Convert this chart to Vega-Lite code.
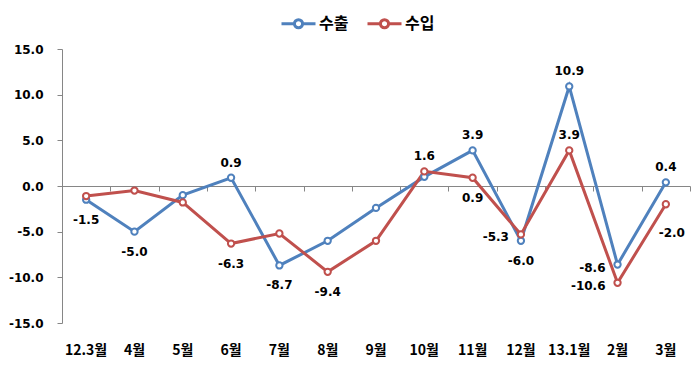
{
  "$schema": "https://vega.github.io/schema/vega-lite/v6.json",
  "width": 628,
  "height": 274,
  "autosize": "none",
  "padding": {"left": 62, "top": 49, "right": 10, "bottom": 44},
  "background": "white",
  "config": {"view": {"stroke": null},
    "locale": {"number": {"decimal": ".", "thousands": ",", "grouping": [3], "currency": ["$", ""], "minus": "-"}}},
  "data": {"values": [
    {"m": "12.3월", "s": "수출", "v": -1.5},
    {"m": "4월", "s": "수출", "v": -5.0},
    {"m": "5월", "s": "수출", "v": -1.0},
    {"m": "6월", "s": "수출", "v": 0.9},
    {"m": "7월", "s": "수출", "v": -8.7},
    {"m": "8월", "s": "수출", "v": -6.0},
    {"m": "9월", "s": "수출", "v": -2.4},
    {"m": "10월", "s": "수출", "v": 1.0},
    {"m": "11월", "s": "수출", "v": 3.9},
    {"m": "12월", "s": "수출", "v": -6.0},
    {"m": "13.1월", "s": "수출", "v": 10.9},
    {"m": "2월", "s": "수출", "v": -8.6},
    {"m": "3월", "s": "수출", "v": 0.4},
    {"m": "12.3월", "s": "수입", "v": -1.1},
    {"m": "4월", "s": "수입", "v": -0.5},
    {"m": "5월", "s": "수입", "v": -1.8},
    {"m": "6월", "s": "수입", "v": -6.3},
    {"m": "7월", "s": "수입", "v": -5.2},
    {"m": "8월", "s": "수입", "v": -9.4},
    {"m": "9월", "s": "수입", "v": -6.0},
    {"m": "10월", "s": "수입", "v": 1.6},
    {"m": "11월", "s": "수입", "v": 0.9},
    {"m": "12월", "s": "수입", "v": -5.3},
    {"m": "13.1월", "s": "수입", "v": 3.9},
    {"m": "2월", "s": "수입", "v": -10.6},
    {"m": "3월", "s": "수입", "v": -2.0}
  ]},
  "encoding": {
    "x": {"field": "m", "type": "ordinal",
      "sort": ["12.3월", "4월", "5월", "6월", "7월", "8월", "9월", "10월", "11월", "12월", "13.1월", "2월", "3월"],
      "scale": {"type": "band", "paddingInner": 0, "paddingOuter": 0}, "axis": null},
    "y": {"field": "v", "type": "quantitative",
      "scale": {"domain": [-15, 15], "nice": false, "zero": false},
      "axis": {"title": null, "values": [-15, -10, -5, 0, 5, 10, 15], "format": ".1f", "grid": false,
        "domainColor": "#868686", "tickColor": "#868686", "tickSize": 5, "labelPadding": 14,
        "labelFont": "DejaVu Sans", "labelFontWeight": "bold", "labelFontSize": 12, "labelColor": "black"}}
  },
  "layer": [
    {
      "mark": {"type": "point", "opacity": 0},
      "encoding": {
        "x": {"field": "m", "type": "ordinal",
          "sort": ["12.3월", "4월", "5월", "6월", "7월", "8월", "9월", "10월", "11월", "12월", "13.1월", "2월", "3월"],
          "axis": {"orient": "bottom", "offset": -137, "title": null, "labels": false, "domain": true,
            "domainColor": "#868686", "ticks": true, "tickColor": "#868686", "tickSize": 5, "tickBand": "extent"}}
      }
    },
    {
      "mark": {"type": "line", "strokeWidth": 3},
      "encoding": {
        "x": {"field": "m", "type": "ordinal",
          "sort": ["12.3월", "4월", "5월", "6월", "7월", "8월", "9월", "10월", "11월", "12월", "13.1월", "2월", "3월"],
          "axis": {"orient": "bottom", "title": null, "domain": false, "ticks": false, "labelAngle": 0,
            "labelPadding": 20, "labelFont": "Noto Sans CJK KR", "labelFontWeight": "bold", "labelFontSize": 14, "labelColor": "black"}},
        "color": {"field": "s", "type": "nominal", "sort": ["수출", "수입"],
          "scale": {"domain": ["수출", "수입"], "range": ["#4F81BD", "#C0504D"]},
          "legend": {"title": null, "orient": "none", "direction": "horizontal", "legendX": 218, "legendY": -44,
            "symbolType": "M-1,0L-0.26,0M0.26,0L1,0M0.24,0A0.24,0.24,0,1,1,-0.24,0A0.24,0.24,0,1,1,0.24,0",
            "symbolSize": 1156, "symbolStrokeWidth": 3, "symbolFillColor": "white",
            "labelFont": "Noto Sans CJK KR", "labelFontWeight": "bold", "labelFontSize": 16, "labelColor": "black",
            "labelOffset": 2, "columnPadding": 12}}
      }
    },
    {
      "mark": {"type": "point", "filled": false, "fill": "white", "size": 40, "strokeWidth": 2, "opacity": 1},
      "encoding": {
        "color": {"field": "s", "type": "nominal", "sort": ["수출", "수입"],
          "scale": {"domain": ["수출", "수입"], "range": ["#4F81BD", "#C0504D"]}, "legend": null}
      }
    },
    {
      "transform": [{"filter": "(datum.s=='수출' && indexof(['6월','11월','13.1월','3월'], datum.m) >= 0) || (datum.s=='수입' && indexof(['10월','13.1월'], datum.m) >= 0)"}],
      "mark": {"type": "text", "dy": -15, "font": "DejaVu Sans", "fontWeight": "bold", "fontSize": 12, "color": "black", "baseline": "middle"},
      "encoding": {"text": {"field": "v", "type": "quantitative", "format": ".1f"}}
    },
    {
      "transform": [{"filter": "(datum.s=='수출' && indexof(['12.3월','4월','7월','12월'], datum.m) >= 0) || (datum.s=='수입' && indexof(['6월','8월','11월'], datum.m) >= 0)"}],
      "mark": {"type": "text", "dy": 20, "font": "DejaVu Sans", "fontWeight": "bold", "fontSize": 12, "color": "black", "baseline": "middle"},
      "encoding": {"text": {"field": "v", "type": "quantitative", "format": ".1f"}}
    },
    {
      "transform": [{"filter": "(datum.s=='수출' && datum.m=='2월') || (datum.s=='수입' && indexof(['12월','2월'], datum.m) >= 0)"}],
      "mark": {"type": "text", "dx": -12, "dy": 3, "align": "right", "font": "DejaVu Sans", "fontWeight": "bold", "fontSize": 12, "color": "black", "baseline": "middle"},
      "encoding": {"text": {"field": "v", "type": "quantitative", "format": ".1f"}}
    },
    {
      "transform": [{"filter": "datum.s=='수입' && datum.m=='3월'"}],
      "mark": {"type": "text", "dx": 6, "dy": 29, "font": "DejaVu Sans", "fontWeight": "bold", "fontSize": 12, "color": "black", "baseline": "middle"},
      "encoding": {"text": {"field": "v", "type": "quantitative", "format": ".1f"}}
    }
  ],
  "resolve": {"axis": {"x": "independent"}}
}
